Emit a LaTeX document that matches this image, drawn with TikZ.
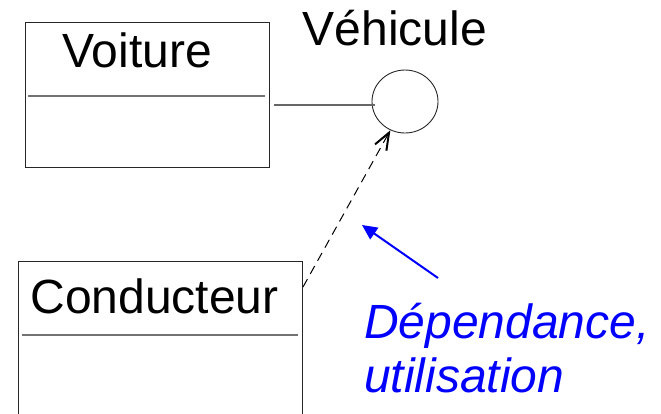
\documentclass[tikz,border=0pt]{standalone}
\usepackage{fontspec}
\setmainfont{Liberation Sans}
\usetikzlibrary{ arrows.meta, calc, positioning, shapes.geometric }
\tikzset{
classbox/.style={draw=black!85, line width=1pt, inner sep=0pt}, % boxes of the classes
divider/.style={draw=black!55, line width=1.2pt}, % line under the class name
classname/.style={anchor=base, inner sep=0pt, font=\fontsize{48}{54}\selectfont},
iface/.style={ellipse, draw=black!85, line width=0.9pt, minimum width=66pt, minimum height=63pt, inner sep=0pt},
link/.style={draw=black!60, line width=1.2pt},
depend/.style={line width=1pt, dash pattern=on 9pt off 6pt, -{Straight Barb[length=17pt,width=13pt,line width=2pt]}},
noteline/.style={draw=blue, line width=2pt, -{Triangle[length=15pt,width=14pt]}},
notetext/.style={anchor=base west, inner sep=0pt, text=blue, font=\fontsize{48}{54}\selectfont\itshape},
}

\begin{document}
\begin{tikzpicture}[x=1pt,y=-1pt]
  \useasboundingbox (0,0) rectangle (661,413);
  % classes
  \node[classbox, minimum width=244pt, minimum height=145pt] (voiture) at (147,94.5) {};
  \node[classname] (voitureName) at (137,67) {Voiture};
  \draw[divider] (28,96) -- (265,96);

  \node[classbox, minimum width=284pt, minimum height=210pt] (conducteur) at (160,366) {};
  \node[classname] (conducteurName) at (154.5,313) {Conducteur};
  \draw[divider] (22,335) -- (298,335);

  % interface
  \node[iface] (vehicule) at (405,101.5) {};
  \node[classname] (vehiculeName) at (395,45) {Véhicule};

  \coordinate (linkStart) at (274,105);
  \coordinate (linkEnd) at (375,105);
  \draw[link] (linkStart) -- (linkEnd);

  \coordinate (depStart) at (303,287);
  \draw[depend] (depStart) -- (vehicule.243);

  % note
  \node[notetext] (noteA) at (364,338) {Dépendance,};
  \node[notetext] (noteB) at (364,392) {utilisation};
  \coordinate (noteTail) at (438,278);
  \coordinate (noteTip) at (362,225);
  \draw[noteline] (noteTail) -- (noteTip);
\end{tikzpicture}
\end{document}
